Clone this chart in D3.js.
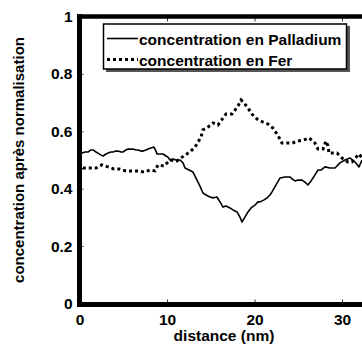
<!DOCTYPE html>
<html><head><meta charset="utf-8">
<script src="https://cdn.jsdelivr.net/npm/d3@7"></script>
<style>body{margin:0;background:#fff;}svg{display:block;}text{font-family:"Liberation Sans",Arial,sans-serif;font-weight:700;fill:#000;}</style>
</head><body>
<script>
const palladiumX = [0,0.29,0.63,0.97,1.31,1.54,1.89,2.11,2.46,2.69,3.03,3.26,3.6,3.83,4.17,4.4,4.74,4.97,5.31,5.54,5.89,6.11,6.46,6.69,7.03,7.26,7.6,7.83,8.17,8.51,8.74,8.86,9.2,9.54,9.89,10.11,10.34,10.69,11.03,11.49,11.83,12.06,12.51,12.97,13.2,13.43,13.77,14.11,14.46,14.91,15.26,15.71,16.06,16.4,16.74,17.2,17.54,18.0,18.34,18.57,18.91,19.26,19.6,20.06,20.4,20.63,21.09,21.43,21.77,22.0,22.46,22.91,23.49,24.06,24.29,24.63,24.97,25.43,25.77,26.11,26.46,26.91,27.26,27.6,28.06,28.63,29.2,29.77,30.34,30.91,31.49,31.94,32.29];
const palladiumY = [0.521,0.524,0.528,0.528,0.535,0.535,0.528,0.524,0.517,0.514,0.521,0.524,0.528,0.528,0.531,0.531,0.528,0.528,0.535,0.538,0.538,0.538,0.535,0.535,0.531,0.531,0.535,0.538,0.542,0.545,0.531,0.521,0.521,0.521,0.514,0.510,0.500,0.503,0.500,0.500,0.490,0.472,0.465,0.458,0.444,0.430,0.409,0.385,0.378,0.371,0.368,0.371,0.354,0.336,0.340,0.333,0.326,0.319,0.301,0.284,0.301,0.319,0.333,0.343,0.354,0.354,0.361,0.368,0.378,0.389,0.413,0.437,0.441,0.441,0.434,0.427,0.430,0.430,0.423,0.413,0.427,0.448,0.465,0.465,0.476,0.472,0.472,0.490,0.500,0.507,0.493,0.476,0.500];
const ferX = [0,0.4,1.2,1.89,2.57,3.26,3.94,4.51,5.31,6.0,6.69,7.37,8.06,8.63,8.97,9.66,10.34,11.14,12.06,12.63,13.2,13.89,14.11,14.69,15.26,15.83,16.4,16.74,17.43,17.77,18.11,18.46,18.8,19.26,19.71,20.29,20.97,21.54,22.11,22.69,23.14,23.71,24.29,24.97,25.66,26.23,26.91,27.26,27.83,28.17,28.4,28.51,29.43,30.0,30.69,31.14,31.94,32.29];
const ferY = [0.490,0.472,0.472,0.472,0.483,0.476,0.469,0.469,0.462,0.462,0.462,0.458,0.465,0.462,0.483,0.479,0.500,0.497,0.517,0.528,0.545,0.580,0.605,0.615,0.629,0.622,0.646,0.660,0.660,0.674,0.688,0.709,0.699,0.681,0.660,0.643,0.632,0.625,0.611,0.585,0.559,0.559,0.559,0.566,0.570,0.577,0.559,0.538,0.538,0.566,0.549,0.524,0.524,0.507,0.493,0.493,0.521,0.507];
const xTicks = [0,10,20,30];
const yTicks = [0,0.2,0.4,0.6,0.8,1];
const yTickLabels = ["0","0.2","0.4","0.6","0.8","1"];
const legendLabels = ["concentration en Palladium","concentration en Fer"];
const xLabel = "distance (nm)";
const yLabel = "concentration après normalisation";

const W = 362, H = 347;
const FONT = "Liberation Sans, Arial, sans-serif";
const FS = 15.5;
const svg = d3.select("body").append("svg").attr("width", W).attr("height", H);
const x = d3.scaleLinear().domain([0, 35]).range([79.5, 79.5 + 35 * 8.75]);
const y = d3.scaleLinear().domain([0, 1]).range([303.5, 16.5]);

// lines
const line = d3.line().x(d => x(d[0])).y(d => y(d[1]));
const pd = palladiumX.map((v, i) => [v, palladiumY[i]]);
const fe = ferX.map((v, i) => [v, ferY[i]]);
svg.append("path").attr("d", line(pd)).attr("fill", "none").attr("stroke", "#000").attr("stroke-width", 1.6).attr("stroke-linejoin", "round");
svg.append("path").attr("d", line(fe)).attr("fill", "none").attr("stroke", "#000").attr("stroke-width", 3).attr("stroke-dasharray", "3,3");

// axes
const xAxis = d3.axisBottom(x).tickValues(xTicks).tickSize(4).tickFormat(d3.format("d"));
const gx = svg.append("g").attr("transform", `translate(0,${y(0)})`).call(xAxis);
gx.select(".domain").remove();
gx.selectAll(".tick line").attr("y2", -4).attr("stroke", "#000").attr("stroke-width", 0.8);
gx.selectAll(".tick text").attr("y", 10).attr("font-size", FS).attr("font-weight", "bold").attr("font-family", FONT).attr("fill", "#000");

const yAxis = d3.axisLeft(y).tickValues(yTicks).tickSize(4).tickFormat((d, i) => yTickLabels[i]);
const gy = svg.append("g").attr("transform", `translate(${x(0)},0)`).call(yAxis);
gy.select(".domain").remove();
gy.selectAll(".tick line").attr("x2", 4).attr("stroke", "#000").attr("stroke-width", 0.8);
gy.selectAll(".tick text").attr("x", -7).attr("font-size", FS).attr("font-weight", "bold").attr("font-family", FONT).attr("fill", "#000");

// top ticks
const gt = svg.append("g").attr("transform", `translate(0,${y(1)})`).call(d3.axisTop(x).tickValues(xTicks).tickSize(-5).tickFormat(""));
gt.select(".domain").remove();
gt.selectAll(".tick line").attr("stroke", "#000").attr("stroke-width", 0.8);

// thick frame
svg.append("line").attr("x1", x(0) - 2.5).attr("x2", W).attr("y1", y(0) + 1).attr("y2", y(0) + 1).attr("stroke", "#000").attr("stroke-width", 5);
svg.append("line").attr("x1", x(0) - 2.5).attr("x2", W).attr("y1", y(1)).attr("y2", y(1)).attr("stroke", "#000").attr("stroke-width", 4.5);
svg.append("line").attr("x1", x(0)).attr("x2", x(0)).attr("y1", y(1) - 2.2).attr("y2", y(0) + 3.5).attr("stroke", "#000").attr("stroke-width", 5);

// labels
svg.append("text").attr("x", 224).attr("y", 341).attr("text-anchor", "middle").attr("font-size", FS).attr("font-weight", "bold").attr("font-family", FONT).text(xLabel);
svg.append("text").attr("transform", "translate(24,160) rotate(-90)").attr("text-anchor", "middle").attr("font-size", 15).attr("font-weight", "bold").attr("font-family", FONT).text(yLabel);

// legend
const lg = svg.append("g");
lg.append("rect").attr("x", 106).attr("y", 26).attr("width", 244).attr("height", 46).attr("fill", "#555");
lg.append("rect").attr("x", 103.5).attr("y", 24).attr("width", 243).attr("height", 45).attr("fill", "#fff").attr("stroke", "#000").attr("stroke-width", 1.5);
lg.append("line").attr("x1", 107).attr("x2", 138).attr("y1", 38.5).attr("y2", 38.5).attr("stroke", "#000").attr("stroke-width", 1.6);
lg.append("line").attr("x1", 107).attr("x2", 138).attr("y1", 59.5).attr("y2", 59.5).attr("stroke", "#000").attr("stroke-width", 3).attr("stroke-dasharray", "3,3");
lg.selectAll("text.lg").data(legendLabels).join("text").attr("class", "lg")
  .attr("x", 139).attr("y", (d, i) => 44.5 + i * 21).attr("font-size", FS).attr("font-weight", "bold").attr("font-family", FONT).text(d => d);
</script>
</body></html>
